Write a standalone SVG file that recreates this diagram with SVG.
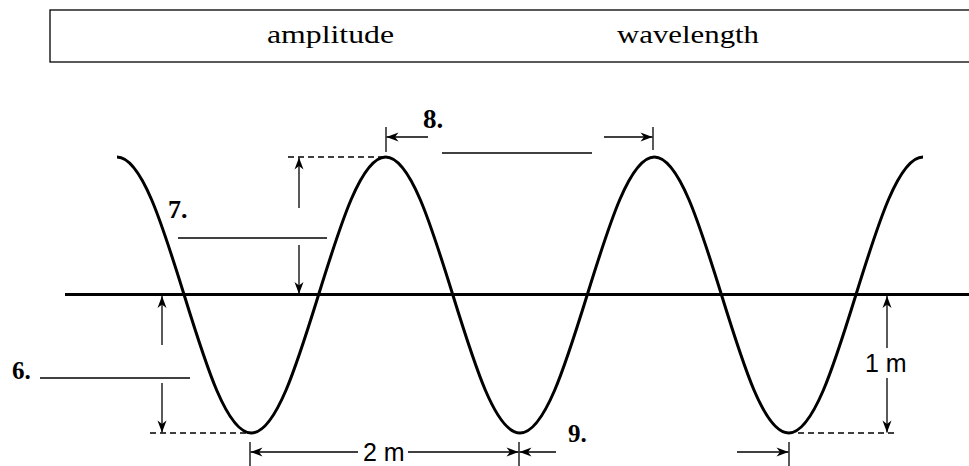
<svg xmlns="http://www.w3.org/2000/svg" width="969" height="466" viewBox="0 0 969 466">
<style>
.thin{stroke:#000;stroke-width:1.3;fill:none}
.dash{stroke:#000;stroke-width:1.3;fill:none;stroke-dasharray:6 4}
.thick{stroke:#000;stroke-width:3;fill:none}
.word{font-family:"Liberation Serif",serif;font-size:26px;fill:#000}
.num{font-family:"Liberation Serif",serif;font-weight:bold;font-size:25px;fill:#000}
.meas{font-family:"Liberation Sans",Arial,sans-serif;font-size:25px;fill:#000}
</style>
<defs>
<marker id="ah" viewBox="-13 -5 14 10" refX="0" refY="0" markerWidth="14" markerHeight="10" orient="auto" markerUnits="userSpaceOnUse">
<path d="M0,0 L-12,-4.5 L-8.5,0 L-12,4.5 Z" fill="#000"/>
</marker>
</defs>
<rect width="969" height="466" fill="#fff"/>
<g id="wordbank">
<rect x="50" y="10" width="930" height="52" fill="none" stroke="#000" stroke-width="1.3"/>
<text class="word" x="267" y="43" textLength="127" lengthAdjust="spacingAndGlyphs">amplitude</text>
<text class="word" x="617" y="43" textLength="142" lengthAdjust="spacingAndGlyphs">wavelength</text>
</g>
<g id="axis">
<line class="thick" x1="65" y1="294.5" x2="969" y2="294.5"/>
</g>
<g id="wave">
<path class="thick" d="M117,157 c24.41,0 45.27,67.32 67.17,138 s42.76,138 67.17,138 s45.27,-67.32 67.17,-138 s42.76,-138 67.17,-138 s45.27,67.32 67.17,138 s42.76,138 67.17,138 s45.27,-67.32 67.17,-138 s42.76,-138 67.17,-138 s45.27,67.32 67.17,138 s42.76,138 67.17,138 s45.27,-67.32 67.17,-138 s42.76,-138 67.17,-138"/>
</g>
<g id="connectors">
<!-- 7 amplitude (crest) -->
<line class="dash" x1="288" y1="157" x2="384" y2="157"/>
<line class="thin" x1="299" y1="208" x2="299" y2="157.5" marker-end="url(#ah)"/>
<line class="thin" x1="299" y1="245" x2="299" y2="294" marker-end="url(#ah)"/>
<!-- 8 wavelength crest to crest -->
<line class="thin" x1="386" y1="127" x2="386" y2="152"/>
<line class="thin" x1="428" y1="137" x2="386.5" y2="137" marker-end="url(#ah)"/>
<line class="thin" x1="604" y1="137" x2="652.5" y2="137" marker-end="url(#ah)"/>
<line class="thin" x1="653" y1="127" x2="653" y2="150"/>
<!-- 6 amplitude (trough) -->
<line class="thin" x1="162" y1="345" x2="162" y2="296" marker-end="url(#ah)"/>
<line class="thin" x1="162" y1="383" x2="162" y2="432.5" marker-end="url(#ah)"/>
<line class="dash" x1="150" y1="433" x2="250" y2="433"/>
<!-- 2 m -->
<line class="thin" x1="250" y1="442" x2="250" y2="466"/>
<line class="thin" x1="358" y1="452" x2="250.5" y2="452" marker-end="url(#ah)"/>
<line class="thin" x1="408" y1="452" x2="518.5" y2="452" marker-end="url(#ah)"/>
<line class="thin" x1="519" y1="442" x2="519" y2="466"/>
<!-- 9 -->
<line class="thin" x1="556" y1="452" x2="519.5" y2="452" marker-end="url(#ah)"/>
<line class="thin" x1="737" y1="452" x2="788.5" y2="452" marker-end="url(#ah)"/>
<line class="thin" x1="789" y1="442" x2="789" y2="466"/>
<!-- 1 m -->
<line class="thin" x1="887" y1="348" x2="887" y2="296" marker-end="url(#ah)"/>
<line class="thin" x1="887" y1="378" x2="887" y2="432.5" marker-end="url(#ah)"/>
<line class="dash" x1="798" y1="433" x2="897" y2="433"/>
</g>
<g id="q6">
<text class="num" x="12" y="379">6.</text>
<line class="thin" x1="40" y1="378" x2="190" y2="378"/>
</g>
<g id="q7">
<text class="num" x="168" y="218" style="font-size:26px">7.</text>
<line class="thin" x1="178" y1="238" x2="327" y2="238"/>
</g>
<g id="q8">
<text class="num" x="423" y="128" style="font-size:27px">8.</text>
<line class="thin" x1="442" y1="153" x2="592" y2="153"/>
</g>
<g id="q9">
<text class="num" x="568" y="442">9.</text>
</g>
<g id="label-2m">
<text class="meas" x="363" y="461">2 m</text>
</g>
<g id="label-1m">
<text class="meas" x="865" y="372">1 m</text>
</g>
</svg>
